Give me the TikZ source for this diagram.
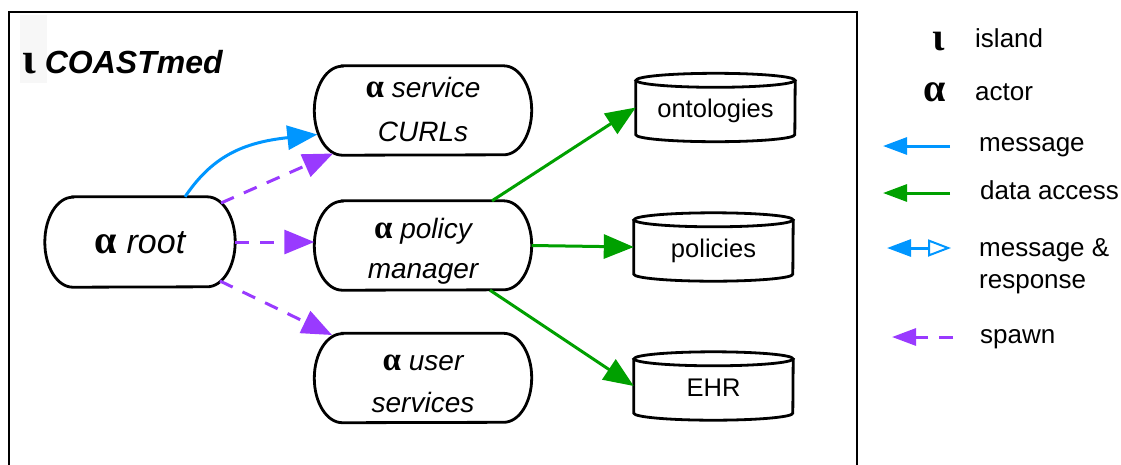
\documentclass[tikz,border=0pt]{standalone}
\usepackage{fontspec}
\setmainfont{Liberation Sans}
\newfontfamily\grk{Liberation Serif}
\usetikzlibrary{arrows.meta,calc}
\definecolor{msgblue}{RGB}{0,150,255}
\definecolor{datagreen}{RGB}{0,160,0}
\definecolor{spawnpurple}{RGB}{153,58,255}
\newcommand\al{\scalebox{1.18}{\grk\bfseries\upshape α}}
\begin{document}
\begin{tikzpicture}[x=1pt,y=-1pt,
  bord/.style={line width=2.8pt, black},
  actor/.style={minimum width=217pt, minimum height=89pt, inner sep=0pt, align=center},
  store/.style={minimum width=159pt, minimum height=68pt, inner sep=0pt, text height=20pt, text depth=0pt, font=\fontsize{25.5}{30}\selectfont},
  lbl/.style={anchor=base west, inner sep=0pt, align=left, font=\fontsize{26}{32}\selectfont},
  conn/.style={line width=3pt},
  msg/.style={conn, draw=msgblue, -{Triangle[length=30pt,width=24pt,fill=msgblue]}},
  dat/.style={conn, draw=datagreen, -{Triangle[length=30pt,width=24pt,fill=datagreen]}},
  spawnln/.style={conn, draw=spawnpurple, dash pattern=on 14pt off 11pt, -{Triangle[length=30pt,width=24pt,fill=spawnpurple]}}
]
\useasboundingbox (0,0) rectangle (1121,464);
% island frame
\draw[bord] (9,470) -- (9,12) -- (857,12) -- (857,470);
\fill[gray!6] (20,15) rectangle (47,83);
\node[anchor=base west, inner sep=0pt] (title) at (22,73)
  {{\grk\bfseries\fontsize{44}{44}\selectfont ι}\hspace{9pt}{\bfseries\itshape\fontsize{32}{32}\selectfont COASTmed}};

% actors
\node[actor, minimum width=190pt, minimum height=90pt, text height=22pt, text depth=0pt,
      font=\fontsize{34}{40}\selectfont\itshape] (root) at (140,242) {\al\ root};
\node[actor, text height=66pt, text depth=5pt, font=\fontsize{28}{44}\selectfont\itshape]
      (service) at (423,110.5) {\al\ service\\CURLs};
\node[actor, text height=70pt, text depth=5pt, font=\fontsize{28}{40}\selectfont\itshape]
      (policy) at (423,245.5) {\al\ policy\\manager};
\node[actor, text height=72pt, text depth=4pt, font=\fontsize{28}{42}\selectfont\itshape]
      (user) at (423,378) {\al\ user\\services};
\foreach \n/\r in {root/45,service/44.5,policy/44.5,user/44.5}{
  \draw[bord] ([xshift=28pt]\n.north west) -- ([xshift=-28pt]\n.north east)
    arc[start angle=90,end angle=-90,x radius=28pt,y radius=\r pt]
    -- ([xshift=28pt]\n.south west)
    arc[start angle=270,end angle=90,x radius=28pt,y radius=\r pt] -- cycle;
}

% data stores
\node[store] (ontologies) at (715.5,107.5) {ontologies};
\node[store] (policies) at (713.5,247) {policies};
\node[store] (EHR) at (713.5,386) {EHR};
\foreach \n in {ontologies,policies,EHR}{
  \draw[bord] ([yshift=-7pt]\n.north) ellipse[x radius=79.5pt,y radius=7pt];
  \draw[bord] ([yshift=-7pt]\n.north west) -- ([yshift=7pt]\n.south west)
    arc[start angle=180,end angle=360,x radius=79.5pt,y radius=7pt]
    -- ([yshift=-7pt]\n.north east);
}

% connectors
\draw[msg] ([xshift=45pt]root.north) .. controls +(27,-40) and +(-75,8) .. ([xshift=3pt,yshift=-24pt]service.west);
\draw[spawnln] ($(root.center)+(81,-39)$) -- ($(service.center)+(-90,43)$);
\draw[spawnln] (root.east) -- (root.east -| policy.west);
\draw[spawnln] ($(root.center)+(80,39)$) -- ($(user.center)+(-91,-43)$);
\draw[dat] ([xshift=69pt]policy.north) -- (ontologies.west);
\draw[dat] (policy.east) -- (policies.west);
\draw[dat] ([xshift=67pt]policy.south) -- (EHR.west);

% legend
\node[anchor=base west, inner sep=0pt] (lgi) at (932,50) {\grk\bfseries\fontsize{40}{40}\selectfont ι};
\node[lbl] (lisland) at (975,47) {island};
\node[anchor=base west, inner sep=0pt] (lga) at (923,101) {\grk\bfseries\fontsize{40}{40}\selectfont α};
\node[lbl] (lactor) at (975,100) {actor};
\node[lbl] (lmsg) at (979,151) {message};
\node[lbl] (ldata) at (980,199) {data access};
\node[lbl] (lresp) at (979,288) {message \&\\response};
\node[lbl] (lspawn) at (980,343) {spawn};

\coordinate (m1) at (950,146); \coordinate (m2) at (883,146);
\draw[conn, draw=msgblue, -{Triangle[length=24pt,width=17pt,fill=msgblue]}] (m1) -- (m2);
\coordinate (d1) at (950,193); \coordinate (d2) at (883,193);
\draw[conn, draw=datagreen, -{Triangle[length=24pt,width=17pt,fill=datagreen]}] (d1) -- (d2);
\coordinate (r1) at (887,248); \coordinate (r2) at (951,248);
\draw[conn, draw=msgblue, {Triangle[length=24pt,width=17pt,fill=msgblue]}-{Triangle[open,length=23pt,width=17pt,line width=2pt,fill=white]}] (r1) -- (r2);
\coordinate (s1) at (953,337); \coordinate (s2) at (892,337);
\draw[conn, draw=spawnpurple, dash pattern=on 14pt off 11pt, -{Triangle[length=24pt,width=17pt,fill=spawnpurple]}] (s1) -- (s2);
\end{tikzpicture}
\end{document}
